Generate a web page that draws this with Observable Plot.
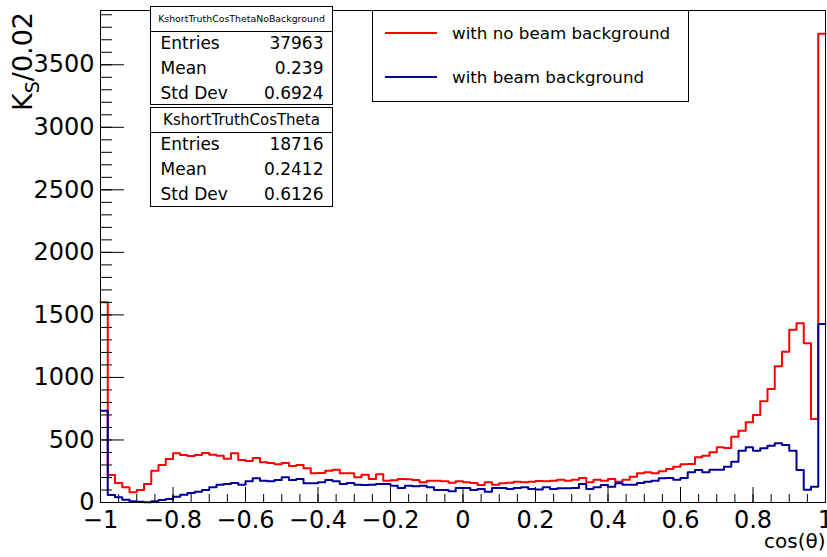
<!DOCTYPE html>
<html>
<head>
<meta charset="utf-8">
<script src="https://cdn.jsdelivr.net/npm/d3@7"></script>
<script src="https://cdn.jsdelivr.net/npm/@observablehq/plot@0.6"></script>
<style>
  html, body { margin: 0; padding: 0; background: #fff; }
  #chart { width: 827px; height: 557px; }
  #chart svg { font-family: "DejaVu Sans", sans-serif; }
</style>
</head>
<body>
<div id="chart"></div>
<script>
// Histogram binning: 100 bins of width 0.02 from -1 to 1
const binLow = -1;
const binWidth = 0.02;

// Series 1: no beam background (red)
const noBackground = [
  1601, 220, 156, 121, 81, 100, 148, 254, 300, 348,
  393, 380, 372, 380, 396, 382, 374, 350, 393, 340,
  332, 356, 321, 316, 305, 316, 292, 300, 273, 233,
  236, 254, 262, 233, 233, 201, 222, 188, 225, 174,
  177, 188, 185, 180, 161, 174, 174, 169, 158, 169,
  161, 156, 140, 161, 142, 153, 158, 166, 161, 166,
  172, 169, 174, 182, 174, 182, 196, 161, 182, 174,
  188, 166, 182, 206, 233, 241, 233, 249, 268, 286,
  305, 308, 361, 374, 401, 441, 436, 526, 574, 641,
  700, 809, 908, 1089, 1206, 1382, 1433, 1273, 668, 3748
];

// Series 2: with beam background (blue)
const withBackground = [
  734, 60, 41, 22, 10, 6, 2, 9, 20, 28,
  46, 62, 76, 86, 100, 121, 142, 148, 156, 142,
  169, 193, 174, 169, 180, 201, 180, 188, 153, 153,
  161, 180, 169, 148, 156, 142, 140, 142, 148, 148,
  134, 116, 134, 129, 134, 121, 100, 100, 89, 116,
  116, 100, 108, 86, 116, 116, 108, 116, 121, 108,
  104, 121, 108, 113, 113, 116, 148, 108, 121, 140,
  126, 153, 142, 142, 156, 166, 174, 193, 196, 182,
  195, 241, 260, 241, 262, 262, 286, 326, 414, 441,
  414, 433, 454, 473, 460, 414, 260, 102, 126, 1428
];

const seriesNames = ["with no beam background", "with beam background"];
const seriesColors = ["#ff0000", "#000099"];

const xMajorTicks = [-1, -0.8, -0.6, -0.4, -0.2, 0, 0.2, 0.4, 0.6, 0.8, 1];
const xMinorTicks = d3.range(-1, 1.0001, 0.05);
const yMajorTicks = [0, 500, 1000, 1500, 2000, 2500, 3000, 3500];
const yMinorTicks = d3.range(0, 3901, 100);
const yMax = 3934;

const xTitle = "cos(θ)";
const yTitleMain = "K";
const yTitleSub = "S";
const yTitleRest = "/0.02";

const statRows = ["Entries", "Mean", "Std Dev"];
const stat1Name = "KshortTruthCosThetaNoBackground";
const stat1Values = ["37963", "0.239", "0.6924"];
const stat2Name = "KshortTruthCosTheta";
const stat2Values = ["18716", "0.2412", "0.6126"];

function toSteps(values) {
  const pts = values.map((v, i) => ({x: binLow + binWidth * i, y: v}));
  pts.push({x: binLow + binWidth * values.length, y: values[values.length - 1]});
  return pts;
}

const fmtX = d => String(Math.round(d * 100) / 100).replace("-", "\u2212");

const plot = Plot.plot({
  width: 827,
  height: 557,
  marginLeft: 100,
  marginRight: 2,
  marginTop: 10,
  marginBottom: 55,
  style: {background: "white", color: "black", fontFamily: "DejaVu Sans, sans-serif"},
  x: {domain: [-1, 1], label: null},
  y: {domain: [0, yMax], label: null},
  marks: [
    Plot.line(toSteps(noBackground), {x: "x", y: "y", curve: "step-after", stroke: seriesColors[0], strokeWidth: 2}),
    Plot.line(toSteps(withBackground), {x: "x", y: "y", curve: "step-after", stroke: seriesColors[1], strokeWidth: 2}),
    Plot.axisX({ticks: xMinorTicks, tickSize: -8, text: null, label: null}),
    Plot.axisX({ticks: xMajorTicks, tickSize: -15, text: null, label: null}),
    Plot.axisX({ticks: xMajorTicks, tickSize: 0, tickPadding: 8, tickFormat: fmtX, fontSize: 24, label: null}),
    Plot.axisY({ticks: yMinorTicks, tickSize: -12, text: null, label: null}),
    Plot.axisY({ticks: yMajorTicks, tickSize: -24, text: null, label: null}),
    Plot.axisY({ticks: yMajorTicks, tickSize: 0, tickPadding: 6, tickFormat: d => String(d), fontSize: 24, label: null}),
    Plot.text([xTitle], {frameAnchor: "bottom-right", dy: 39, lineAnchor: "middle", textAnchor: "end", fontSize: 20}),
    Plot.frame({stroke: "black", strokeWidth: 1})
  ]
});

document.getElementById("chart").appendChild(plot);

const svg = d3.select(plot);

// Y-axis title with subscript
const yt = svg.append("text")
  .attr("transform", "translate(32,12) rotate(-90)")
  .attr("text-anchor", "end")
  .attr("font-size", 27)
  .attr("fill", "black");
yt.append("tspan").text(yTitleMain);
yt.append("tspan").attr("font-size", 19).attr("dy", 7).text(yTitleSub);
yt.append("tspan").attr("dy", -7).text(yTitleRest);

// Stat boxes
function statBox(g, x, y, w, h, headH, name, nameSize, values, rowYs) {
  const b = g.append("g");
  b.append("rect").attr("x", x).attr("y", y).attr("width", w).attr("height", h)
    .attr("fill", "white").attr("stroke", "black").attr("stroke-width", 1);
  b.append("line").attr("x1", x).attr("x2", x + w).attr("y1", y + headH).attr("y2", y + headH)
    .attr("stroke", "black").attr("stroke-width", 1);
  b.append("text").attr("x", x + w / 2).attr("y", y + headH / 2).attr("dy", "0.35em")
    .attr("text-anchor", "middle").attr("font-size", nameSize).text(name);
  statRows.forEach((r, i) => {
    b.append("text").attr("x", x + 10).attr("y", rowYs[i]).attr("dy", "0.35em")
      .attr("text-anchor", "start").attr("font-size", 17).text(r);
    b.append("text").attr("x", x + w - 9).attr("y", rowYs[i]).attr("dy", "0.35em")
      .attr("text-anchor", "end").attr("font-size", 17).text(values[i]);
  });
}
statBox(svg, 150.5, 6.5, 182, 98, 25, stat1Name, 9.4, stat1Values, [43.5, 68.5, 93]);
statBox(svg, 150.5, 107.5, 182, 99, 25, stat2Name, 15, stat2Values, [144.5, 169.5, 194]);

// Legend
const lg = svg.append("g");
lg.append("rect").attr("x", 372.5).attr("y", 10.5).attr("width", 316).attr("height", 91)
  .attr("fill", "white").attr("stroke", "black").attr("stroke-width", 1);
[33, 77].forEach((ly, i) => {
  lg.append("line").attr("x1", 385).attr("x2", 437).attr("y1", ly).attr("y2", ly)
    .attr("stroke", seriesColors[i]).attr("stroke-width", 2);
  lg.append("text").attr("x", 452).attr("y", ly).attr("dy", "0.35em")
    .attr("text-anchor", "start").attr("font-size", 16.7).text(seriesNames[i]);
});
</script>
</body>
</html>
